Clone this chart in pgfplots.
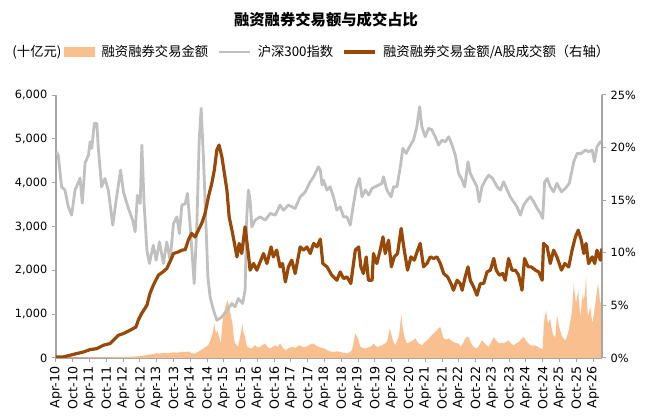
\documentclass[border=0pt]{standalone}
\usepackage{fontspec}
\setmainfont{DejaVu Sans}
\newfontfamily\cjk{Noto Sans CJK SC}
\usepackage{pgfplots}
\pgfplotsset{compat=1.18}

\definecolor{mtorange}{HTML}{F9BF8F}
\definecolor{hsgray}{HTML}{C0C0C0}
\definecolor{ratiobrown}{HTML}{984807}
\definecolor{axgray}{HTML}{A6A6A6}

\pgfplotsset{
  base/.style={
    width=409.5pt, height=197.25pt, scale only axis,
    xmin=0, xmax=195.2,
    axis line style={axgray, line width=1pt},
    tick style={axgray, line width=0.75pt},
    major tick length=3pt, tick align=outside,
    tick label style={font=\fontsize{8.5}{10}\selectfont},
    /pgf/number format/assume math mode=true,
    scaled ticks=false,
  },
  patchlegend/.style={legend image code/.code={\fill[##1] (0pt,-3.5pt) rectangle (23pt,3.5pt);}},
  linelegend/.style={legend image code/.code={\draw[##1] (0pt,0pt) -- (23pt,0pt);}},
}

\begin{document}
\begin{tikzpicture}
\begin{axis}[base,
    axis x line*=bottom, axis y line*=left,
    ymin=0, ymax=6000, ytick={0,1000,...,6000},
    /pgf/number format/1000 sep={,},
    xtick={0,6,...,192},
    xticklabels={Apr-10,Oct-10,Apr-11,Oct-11,Apr-12,Oct-12,Apr-13,Oct-13,Apr-14,Oct-14,Apr-15,Oct-15,Apr-16,Oct-16,Apr-17,Oct-17,Apr-18,Oct-18,Apr-19,Oct-19,Apr-20,Oct-20,Apr-21,Oct-21,Apr-22,Oct-22,Apr-23,Oct-23,Apr-24,Oct-24,Apr-25,Oct-25,Apr-26},
    xticklabel style={rotate=90, anchor=east, font=\fontsize{9.5}{10}\selectfont},
    legend style={at={(rel axis cs:0.0147,1.1635)}, anchor=west, draw=none, fill=none,
      inner sep=0pt, font=\cjk\fontsize{10}{12}\selectfont,
      /tikz/every odd column/.append style={column sep=3pt},
      /tikz/every even column/.append style={column sep=5pt}},
    legend columns=-1,
  ]
% margin trading turnover (bn yuan)
\addplot[fill=mtorange, draw=none, patchlegend] coordinates {
(0,5) (6,8) (12,12) (18,15) (24,20) (28,30) (30,45) (32,60) (33.6,80) (35,90)
(36,110) (37.2,100) (38.5,120) (40,105) (40.8,115) (42,130) (43.5,120) (45,140) (46.2,135) (47.5,150)
(48.5,110) (49.5,100) (50.9,140) (51.8,180) (52.7,215) (53.5,250) (54.5,300) (55.3,420) (56,560) (56.6,790)
(57.2,560) (57.8,620) (58.3,480) (58.9,330) (59.6,860) (60.1,1000) (60.5,1170) (61,1250) (61.4,1320) (61.8,1200)
(62.2,1090) (62.7,900) (63.1,790) (63.5,500) (64,330) (64.5,300) (65,250) (65.4,350) (65.8,480) (66.2,600)
(66.6,790) (67,600) (67.6,480) (68,330) (68.5,250) (69.2,230) (70,215) (70.6,260) (71.2,290) (72,240)
(73,250) (73.9,300) (74.8,330) (75.6,250) (76.6,215) (77.5,260) (78.4,290) (79.2,250) (80.1,330) (81,240)
(82,176) (83,220) (84.3,250) (85.5,230) (86.4,270) (87.3,290) (88.2,240) (89.1,250) (90.2,280) (91,310)
(92.1,330) (93,280) (94,250) (95,230) (96,215) (96.9,176) (98,150) (99.2,137) (100.4,150) (101.6,137)
(102.8,120) (104,100) (105,130) (105.8,176) (106.4,350) (107,560) (107.5,500) (108,445) (108.5,320) (108.9,250)
(109.7,230) (110.6,215) (111.5,240) (112.4,250) (113,290) (113.5,330) (114.2,280) (114.9,250) (115.7,270) (116.5,290)
(117.4,320) (118.3,365) (118.8,500) (119.3,670) (119.8,560) (120.1,480) (120.7,360) (121.3,290) (121.9,380) (122.5,480)
(123,700) (123.4,1010) (123.8,750) (124.3,560) (124.9,420) (125.5,330) (126.1,350) (126.7,365) (127.6,400) (128.5,445)
(129.1,380) (129.7,330) (130.3,310) (130.9,290) (131.7,350) (132.6,400) (133.5,460) (134.4,520) (135.3,580) (136.2,630)
(136.8,680) (137.4,710) (138,560) (138.6,445) (139.5,420) (140.4,445) (141.2,400) (142.1,365) (143,340) (143.9,330)
(144.6,250) (145.5,330) (146.3,445) (147,480) (147.5,480) (148.4,340) (149.3,250) (150.5,215) (151.4,300) (152.3,400)
(153.5,320) (154.7,250) (155.6,360) (156.5,480) (157.4,400) (158.3,330) (159.2,350) (160.1,330) (161,370) (161.8,400)
(162.7,330) (163.6,290) (164.5,330) (165.4,365) (166.3,420) (167.2,480) (167.8,420) (168.4,365) (169,330) (169.6,290)
(170.5,280) (171.4,290) (172.3,250) (173.2,215) (174,215) (174.2,500) (174.4,790) (174.8,950) (175.2,1090) (175.6,900)
(175.9,790) (176.3,850) (176.7,900) (177.1,700) (177.6,560) (178,500) (178.5,480) (178.8,700) (179.1,975) (179.5,850)
(179.9,710) (180.4,600) (180.9,480) (181.5,440) (182.1,400) (182.7,500) (183.3,630) (183.9,850) (184.5,1090) (184.8,1400)
(185.1,1700) (185.5,1450) (185.9,1240) (186.3,1400) (186.7,1550) (187.1,1200) (187.5,940) (187.9,1200) (188.3,1470) (188.7,1300)
(189.1,1500) (189.5,1850) (189.8,1300) (190.2,940) (190.6,1050) (191,1170) (191.4,950) (191.8,790) (192.3,1000) (192.8,1240)
(193.3,1500) (193.8,1700) (194.2,1450) (194.6,1240) (194.9,1300) (195.2,1390)
} \closedcycle;
\addlegendentry{融资融券交易金额}
% CSI 300 index
\addplot[hsgray, line width=2.1pt, line join=round, linelegend] coordinates {
(0,4705) (0.8,4630) (2.0,3906) (3.2,3830) (4.4,3449) (5.6,3259) (6.8,3830) (8.6,4104) (9.4,3533) (10.4,4447)
(11.6,4630) (12.2,4933) (12.8,4782) (13.7,5354) (14.6,5354) (15.1,4819) (16.3,3906) (17.5,4097) (18.7,3830) (20.3,3031)
(21.5,3602) (23.1,4287) (24.1,3791) (25.9,3412) (27.4,3145) (28.3,2878) (29.1,3716) (30.1,3526) (30.7,4858) (31.5,3526)
(32.5,2460) (33.4,2156) (34.8,2574) (35.8,2231) (37.0,2649) (38.4,2156) (39.6,2649) (40.8,2231) (42.0,3070) (43.2,3220)
(44.1,2841) (45.0,3488) (46.2,3520) (47.0,3755) (47.9,3070) (48.5,2535) (49.4,1699) (50.3,2917) (51.2,4972) (51.9,5696)
(52.7,4591) (53.6,3070) (54.3,1850) (55.1,1393) (56.3,1090) (57.5,861) (59.3,936) (61.1,1090) (62.9,1242) (64.0,1165)
(65.2,1357) (66.7,1242) (67.6,1546) (68.2,3220) (68.8,3830) (69.4,3602) (70.0,2992) (71.2,3145) (73.0,3220) (74.8,3145)
(76.6,3298) (78.4,3259) (80.1,3488) (81.3,3373) (83.1,3488) (85.5,3412) (87.3,3677) (89.1,3791) (90.9,4020) (92.1,4134)
(93.8,4362) (94.5,4287) (95.1,3950) (95.6,4059) (96.9,3830) (98.0,3906) (99.2,3677) (100.4,3373) (101.6,3449) (102.8,3220)
(104.0,3220) (105.2,3031) (106.4,3526) (107.3,3869) (108.5,4097) (109.4,3677) (110.6,3830) (111.8,3716) (113.0,3869) (114.1,3906)
(115.3,3944) (116.5,3983) (117.1,4134) (118.3,3830) (119.8,3677) (120.7,3906) (121.9,3906) (123.1,4362) (124.0,4782) (125.2,4668)
(126.4,4819) (127.8,4972) (129.0,5276) (130.0,5733) (130.8,5276) (132.0,5048) (133.2,5239) (134.4,5201) (135.6,5048) (136.8,4858)
(138.0,4972) (139.2,4933) (140.4,5048) (141.6,4858) (142.8,4620) (143.9,4212) (145.2,4059) (146.1,3906) (147.3,4477) (148.1,4212)
(149.3,4059) (150.5,3906) (151.3,3563) (152.3,3906) (153.5,4059) (154.7,4173) (156.1,4097) (157.7,3906) (158.9,3830) (160.0,4020)
(161.3,3830) (162.4,3677) (163.6,3563) (164.8,3449) (166.0,3259) (167.2,3488) (168.4,3602) (169.6,3677) (170.8,3563) (172.0,3412)
(173.2,3298) (174.0,3184) (174.7,4020) (175.6,4097) (176.7,3906) (177.9,3791) (179.1,3983) (180.7,3791) (182.1,3869) (183.5,3983)
(185.1,4477) (186.3,4668) (187.8,4668) (189.3,4744) (190.4,4705) (191.7,4744) (192.5,4477) (193.4,4819) (194.6,4933) (195.2,4897)
};
\addlegendentry{沪深300指数}
\addlegendimage{ratiobrown, line width=2.4pt, linelegend}
\addlegendentry{融资融券交易金额/A股成交额（右轴）}
\end{axis}

\begin{axis}[base,
    axis x line=none, axis y line*=right,
    ymin=0, ymax=25, ytick={0,5,...,25},
    yticklabel={\pgfmathprintnumber{\tick}\%},
  ]
% margin turnover / A-share turnover (%)
\addplot[ratiobrown, line width=2.4pt, line join=round] coordinates {
(0,0.1) (2.6,0.1) (5.0,0.26) (7.4,0.42) (9.8,0.57) (12.2,0.8) (14.6,0.89) (16.9,1.21) (19.3,1.37) (21.1,1.85)
(22.3,2.16) (24.1,2.32) (26.5,2.64) (28.6,2.95) (29.4,3.59) (30.6,4.22) (32.5,5.01) (33.6,6.13) (34.8,6.92) (36.6,7.87)
(38.2,8.18) (39.6,8.5) (41.0,9.3) (42.0,9.93) (43.8,10.09) (45.0,10.25) (46.2,10.3) (47.3,11.2) (48.5,11.84) (49.7,11.5)
(50.9,12.15) (52.1,12.8) (53.3,13.74) (54.5,15.32) (55.7,16.6) (56.6,17.86) (57.5,19.77) (58.3,20.24) (59.3,19.13) (60.2,17.55)
(61.1,15.96) (61.9,13.42) (62.9,12.15) (63.8,10.89) (64.7,9.61) (65.5,10.89) (66.4,9.93) (67.6,12.47) (68.6,10.25) (69.4,8.35)
(70.6,8.98) (71.8,8.35) (73.0,9.14) (74.2,9.93) (75.4,8.98) (76.9,10.56) (77.7,9.61) (78.9,10.25) (80.1,8.66) (81.0,8.98)
(82.0,7.23) (83.1,8.66) (84.3,9.3) (85.5,8.03) (87.3,10.56) (88.5,10.25) (89.7,10.56) (90.9,9.93) (92.1,10.89) (93.3,10.56)
(94.5,11.3) (95.4,8.98) (96.9,8.66) (98.6,7.87) (100.4,7.39) (101.6,8.18) (102.8,7.55) (104.0,7.71) (105.4,7.08) (107.0,10.25)
(108.2,10.56) (109.0,8.66) (109.9,8.03) (110.9,9.61) (111.7,7.39) (113.0,7.39) (113.5,9.93) (114.7,8.98) (115.9,10.25) (116.9,11.51)
(117.7,9.93) (118.9,11.2) (119.9,8.66) (120.9,9.61) (122.1,9.93) (123.4,12.31) (124.5,10.25) (125.7,8.35) (126.9,9.61) (128.1,9.3)
(129.3,10.25) (130.2,10.89) (131.4,8.66) (132.6,8.98) (133.8,9.61) (135.0,9.46) (136.2,9.61) (137.4,8.98) (138.6,8.03) (140.0,7.71)
(141.2,7.08) (142.1,6.44) (143.4,7.39) (144.5,7.08) (145.2,6.44) (146.3,7.71) (147.3,8.66) (148.1,7.39) (149.3,6.76) (150.5,5.97)
(151.7,7.08) (152.9,7.08) (154.1,8.18) (155.3,8.35) (156.5,9.46) (157.4,8.35) (158.5,7.87) (159.7,8.03) (160.6,7.39) (161.8,9.46)
(163.0,8.35) (164.2,8.35) (165.4,7.87) (166.6,6.44) (167.5,9.46) (168.8,8.66) (169.9,8.66) (171.4,8.35) (172.6,8.18) (173.8,7.39)
(174.3,10.89) (175.6,10.56) (176.7,8.98) (177.9,10.25) (179.1,9.61) (180.7,8.35) (181.9,8.98) (183.3,8.66) (184.5,10.25) (185.7,11.51)
(186.7,12.15) (187.8,11.2) (188.7,9.93) (189.5,10.89) (190.4,8.98) (191.7,9.61) (192.6,8.98) (193.4,10.25) (194.6,9.3) (195.2,10.41)
};
\end{axis}

\node[font=\cjk\bfseries\fontsize{11.5}{13}\selectfont] at (202.5pt,253.5pt) {融资融券交易额与成交占比};
\node[font=\cjk\fontsize{10}{12}\selectfont] at (-14.25pt,229.5pt) {(十亿元)};

\pgfresetboundingbox
\path[use as bounding box] (-42pt,-43.5pt) rectangle (445.5pt,268.5pt);
\end{tikzpicture}
\end{document}
